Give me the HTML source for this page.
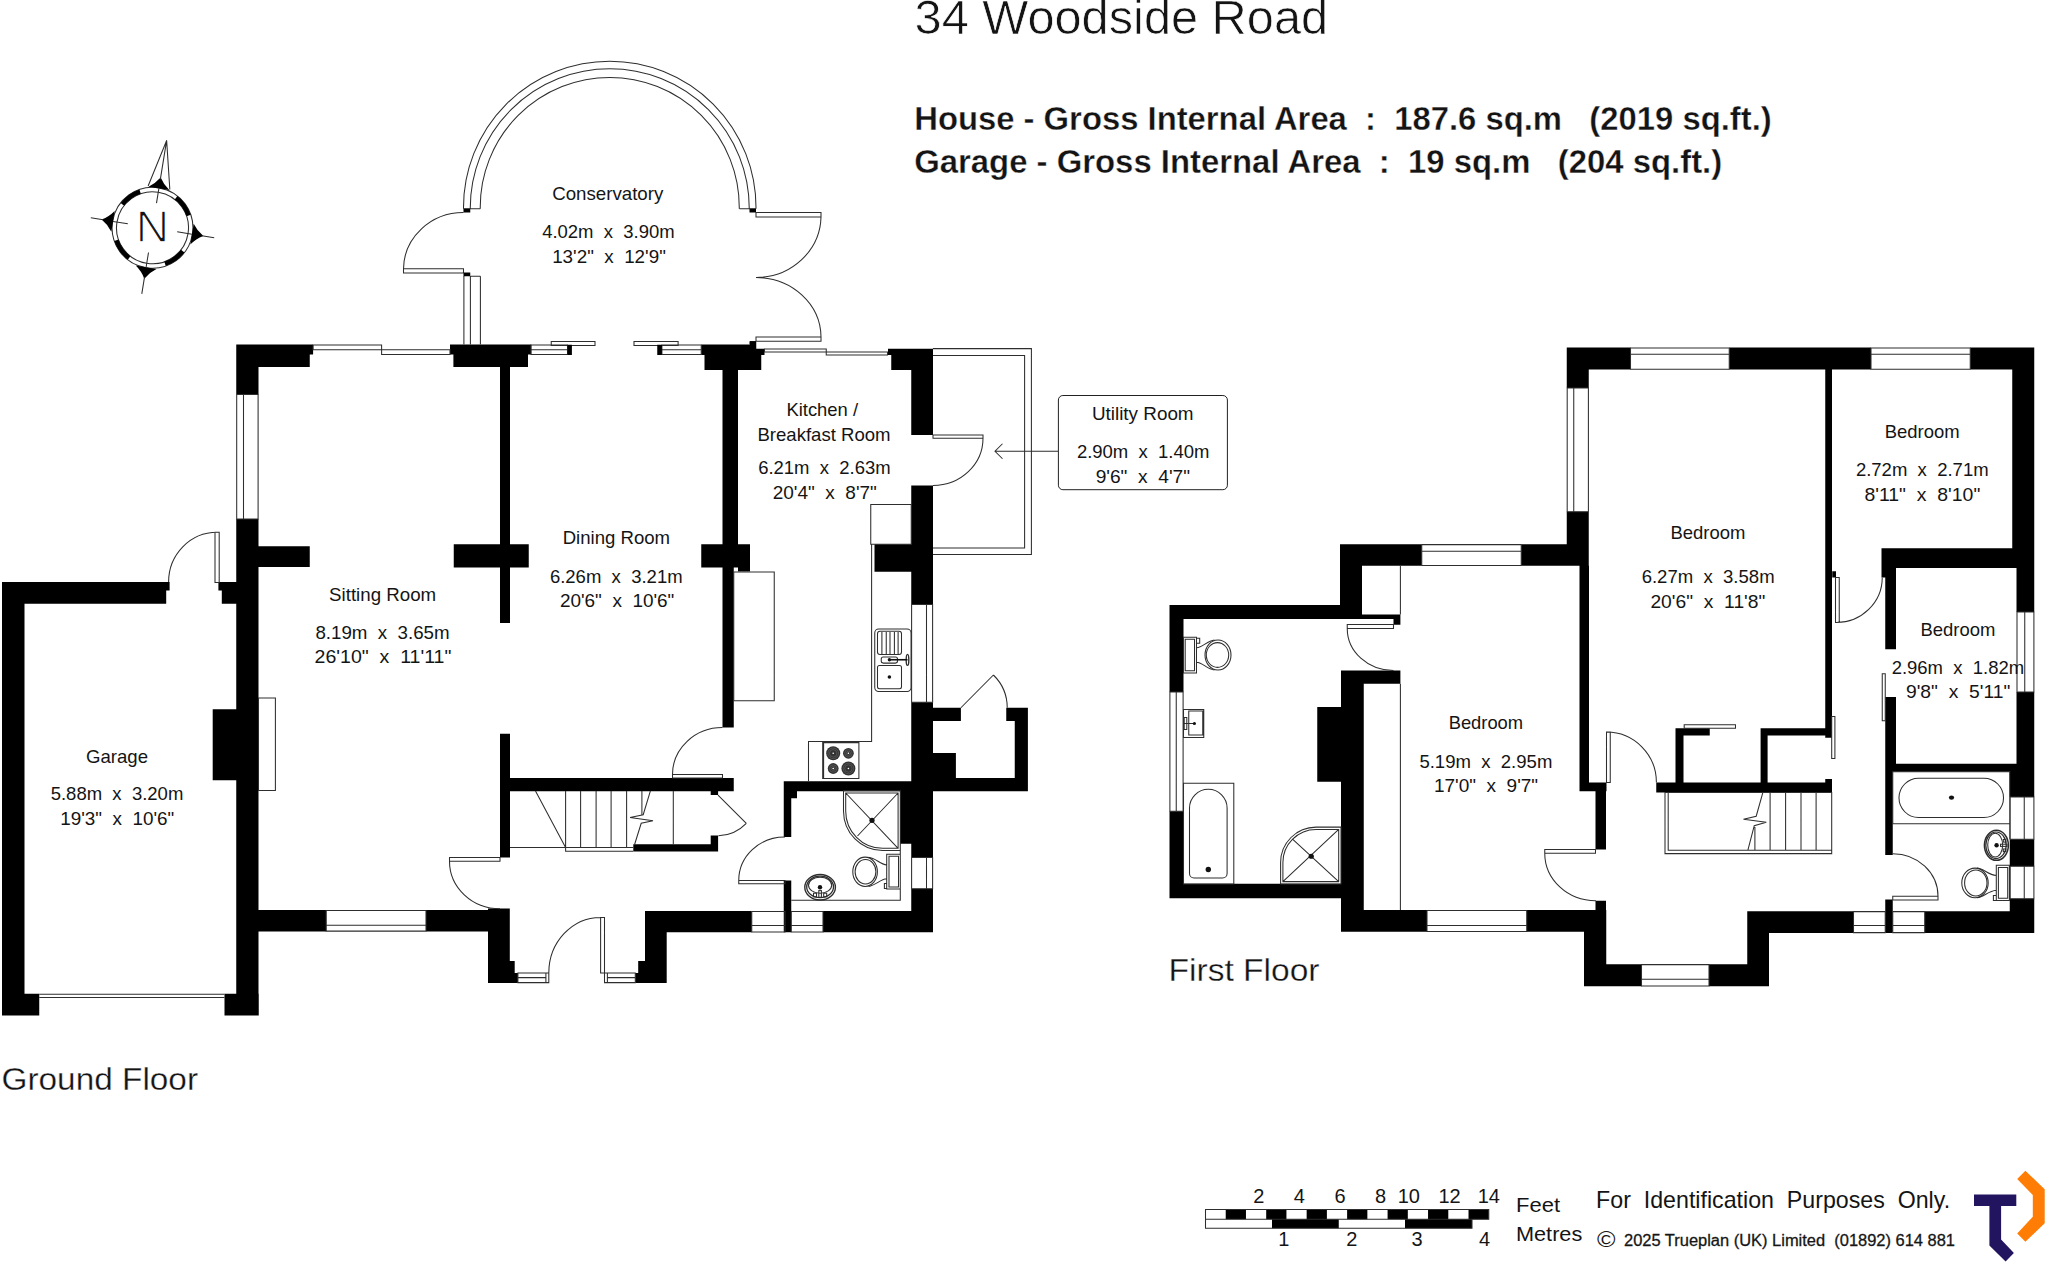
<!DOCTYPE html>
<html lang="en"><head><meta charset="utf-8"><title>34 Woodside Road - Floor Plan</title>
<style>
html,body{margin:0;padding:0;background:#fff}
body{width:2048px;height:1264px;overflow:hidden}
svg{display:block}
text{font-family:"Liberation Sans",sans-serif;fill:#141414}
.w{fill:#000}
.l{fill:none;stroke:#2e2e2e;stroke-width:1.05}
.f{fill:#111}
.b{font-weight:bold}
.s1{stroke:#fff;stroke-width:.7}.s2{stroke:#fff;stroke-width:.35}.s3{stroke:#fff;stroke-width:.3}.s4{stroke:none}.s5{stroke:none}.s6{stroke:none}.s7{stroke:#1c1c1c;stroke-width:.3}
</style></head><body>
<svg width="2048" height="1264" viewBox="0 0 2048 1264">
<rect width="2048" height="1264" fill="#fff"/>
<!-- ground floor walls -->
<path class="w" d="M2 582H24.5V1015.5H2ZM2 582H169.6V590.4H2ZM2 590.4H166.2V603.7H2ZM218.4 582H236.25V590.4H218.4ZM221.8 590.4H236.25V603.7H221.8ZM2 993.75H39.25V1015.5H2ZM224.5 993.75H258.75V1015.5H224.5ZM236.25 344.4H258.5V394.4H236.25ZM236.25 518.9H258.5V1015.5H236.25ZM212.7 709.3H236.25V780.3H212.7ZM236.25 344.4H313.1V354.6H236.25ZM236.25 354.6H309.75V366.9H236.25ZM450 344.4H531.25V354.6H450ZM453.4 354.6H528V366.9H453.4ZM701.25 344.6H750V355H701.25ZM750 341.25H756.25V348.75H750ZM750 348.75H764.5V355H750ZM704.5 355H761.25V370H704.5ZM888 348.75H933V355H888ZM891.25 355H911.25V370H891.25ZM911.25 348.75H933V435H911.25ZM911.25 485.5H933V604.4H911.25ZM874.5 544.25H911.25V571.75H874.5ZM911.25 702.25H933V857.5H911.25ZM911.25 888.75H933V932.3H911.25ZM933 707.75H960.9V721H933ZM1006.25 707.75H1027.9V721H1006.25ZM1014.75 707.75H1027.9V791.25H1014.75ZM933 778.1H1027.9V791.25H933ZM933 753.1H955.9V778.1H933ZM500 366.9H510V623H500ZM500 733.75H510V857.5H500ZM258.5 546.3H309.75V567.1H258.5ZM453.75 544.25H528.75V567.5H453.75ZM722.5 370H738V544.25H722.5ZM701.25 544.25H750V567.5H701.25ZM738 567.5H750V571.5H738ZM722.5 567.5H733.75V727.5H722.5ZM500 778H733.75V791.25H500ZM633.3 844.3H718.1V851.6H633.3ZM710.7 835.4H718.1V851.6H710.7ZM710.7 791H718.1V795.1H710.7ZM783.75 781.25H911.25V791.25H783.75ZM783.75 781.25H791.25V837H783.75ZM791.25 791.25H797V798.25H791.25ZM783.75 880.5H791.25V932.3H783.75ZM900 791.25H911.25V843.75H900ZM258.5 910.1H326.2V931.5H258.5ZM426 910.1H509.8V931.5H426ZM488 908.6H509.8V983H488ZM509.8 961H514.7V983H509.8ZM514.7 973H517.9V983H514.7ZM645 911.2H666.7V983H645ZM638.2 961H645V983H638.2ZM635.3 973H638.2V983H635.3ZM645 911H751.75V932.3H645ZM785 911H791.25V932.3H785ZM823 911H933V932.3H823Z"/>
<!-- first floor walls -->
<path class="w" d="M1566.75 347.5H1630.5V369.5H1566.75ZM1729.25 347.5H1871V369.5H1729.25ZM1970.25 347.5H2034.25V369.5H1970.25ZM1566.75 347.5H1588.75V388H1566.75ZM1566.75 511.75H1588.75V565.75H1566.75ZM1340 544.25H1421.75V565.75H1340ZM1521.25 544.25H1588.75V565.75H1521.25ZM1579.5 565.75H1589V791.25H1579.5ZM1579.5 782.5H1606.5V791.25H1579.5ZM1595.5 791.25H1606V849.5H1595.5ZM1595.5 900.75H1606V911H1595.5ZM1340 544.25H1362V619H1340ZM1169.5 605H1362V619H1169.5ZM1362 614.4H1400.4V619H1362ZM1393.5 619H1400.4V624.75H1393.5ZM1169.5 605H1183.5V691.9H1169.5ZM1169.5 811.25H1183.5V898.25H1169.5ZM1169.5 883.75H1342V898.25H1169.5ZM1341 670.4H1363.75V931.75H1341ZM1341 670.4H1400.4V683.75H1341ZM1317.25 706.9H1341V781.75H1317.25ZM1341 910H1427V931.75H1341ZM1526.75 910H1606.25V931.75H1526.75ZM1584 910H1606.25V986.25H1584ZM1584 964.25H1641.5V986.25H1584ZM1709 964.25H1769V986.25H1709ZM1747.25 911.25H1769V986.25H1747.25ZM1747.25 911.25H1853.5V933H1747.25ZM1885.25 911.25H1892.75V933H1885.25ZM1924.75 911.25H2034.25V933H1924.75ZM2012.25 347.5H2034.25V568H2012.25ZM2016.5 568H2034.25V612H2016.5ZM2016.5 692H2034.25V771.75H2016.5ZM2009.75 771.75H2034.25V797H2009.75ZM2009.75 839.25H2034.25V866.25H2009.75ZM2009.75 898.75H2034.25V933H2009.75ZM1825.25 369.5H1832V737.8H1825.25ZM1825.25 779H1832V792.5H1825.25ZM1832.25 571.25H1836V577.5H1832.25ZM1881.5 548.25H2016.5V568H1881.5ZM1881.5 568H1885.25V577.5H1881.5ZM1885.25 568H1896V649.25H1885.25ZM1885.25 697H1896V771.75H1885.25ZM1885.25 763.75H2016.5V771.75H1885.25ZM1885.25 771.75H1892.75V855H1885.25ZM1885.25 899.5H1892.75V911.25H1885.25ZM1656.25 782.5H1832V792.4H1656.25ZM1675.5 728.25H1683.5V782.5H1675.5ZM1675.5 728.25H1709.75V735.5H1675.5ZM1760.6 728.25H1767.6V782.5H1760.6ZM1760.6 728.25H1832V735.5H1760.6Z"/>
<!-- ground floor lines -->
<path class="l" d="M215 532.3H219.2V582.5H215ZM217 532.3A48.4 49.7 0 0 0 168.6 582M39.25 994.2L224.5 994.2M39.25 997.5L224.5 997.5M236.7 394.4H258.1V518.9H236.7ZM243.5 394.4L243.5 518.9M258.5 697.9H275.4V790.5H258.5ZM313.1 344.9H381.6V349.75H313.1ZM381.6 349.75H450V354.4H381.6ZM326.2 910.5H426V931.1H326.2ZM326.2 925.2L426 925.2M463.5 208.75V207.5A146.25 146.25 0 0 1 756 207.5V208.75M470.25 208.75V208.2A139.5 139.5 0 0 1 749.25 208.2V208.75M480.25 208.75V207A129.5 129.5 0 0 1 739.25 207V208.75M463.5 208.75L480.25 208.75M739.5 208.75L756 208.75M403.5 268.75H463.5V273H403.5ZM463.5 212.5A60 57 0 0 0 403.5 269M463.9 276L463.9 344.4M470.4 276L470.4 344.4M480.4 276.25L480.4 344.4M470.4 276.25L480.4 276.25M756 212.5H821V217H756ZM821 217A65 62 0 0 1 756 277.5M756 337H821V341.25H756ZM821 337A65 60 0 0 0 756 277.5M531 344.9H567.5V354.4H531ZM531 349.75L567.5 349.75M551.25 341.4H595V345.4H551.25ZM634 341.4H678.1V345.4H634ZM661.9 344.9H701.25V354.4H661.9ZM661.9 349.75L701.25 349.75M764.5 348.9H826.25V352H764.5ZM826.25 352H887.5V355H826.25ZM933 348.6H1031.4V554.5H933M933 355.4H1024.6V548H933M933 435H983V438.3H933ZM983 438.3A50 47.2 0 0 1 933 485.5M995 451.25L1058 451.25M1002.5 443.75L995 451.25L1002.5 458.75M870.75 504.5H911.25V544.25H870.75ZM871.6 544.25V741.4H808.5V781M733.75 571.9H774.25V700.75H733.75ZM822.7 742.6H858.9V778.4H822.7ZM823.6 778V743M911.6 604.4H932.6V702.25H911.6ZM926.5 604.4L926.5 702.25M672.5 774.5H722.5V778H672.5ZM672.5 774.5A50 47 0 0 1 722.5 727.5M510 847.4L633.3 847.4M535.5 790.9L565.6 847.4M565.6 847.4V851.25H633.3M565.6 790.9L565.6 847.4M580.6 790.9L580.6 847.4M596.1 790.9L596.1 847.4M611.1 790.9L611.1 847.4M626.6 790.9L626.6 847.4M641.9 790.9L641.9 814.4M650.4 790.9L643.2 814.7L630.1 817.6L653 820.8L641.2 823.3L634.6 844.5M673.3 790.9L673.3 844.3M718 795.1L746.3 823.3M746.3 823.3A41 41 0 0 1 718.4 835.8M449.5 857.5H500V861.25H449.5ZM449.5 861.25A50.5 47.5 0 0 0 500 908.8M600.6 917.4H604.5V973H600.6ZM600.6 917.4A51.8 55.6 0 0 0 548.8 973M517.9 973H548.8V982.6H517.9ZM517.9 977.6L545.9 977.6M545.9 973L545.9 982.6M604.5 973H635.3V982.6H604.5ZM607.4 977.6L635.3 977.6M607.4 973L607.4 982.6M738.75 880.5H785V883.75H738.75ZM738.75 880.5A46 43.5 0 0 1 785 837M751.75 911.4H785V932H751.75ZM751.75 925.5L785 925.5M791.25 911.4H823V932H791.25ZM791.25 925.5L823 925.5M911.6 857.5H932.6V888.75H911.6ZM926.5 857.5L926.5 888.75M900.3 850.5V900.2H791.25M843.5 790.8H900.3V850.5H882.6A39 39.6 0 0 1 843.5 810.9ZM845.7 793H898.1V848.3H882.6A36.9 37.4 0 0 1 845.7 810.9ZM845.7 793L898.1 848.3M898.1 793L857.5 836M886.7 854.3H900.3V889H886.7ZM889 856.3H898.5V887H889ZM884.4 883.4H886.7V888.5H884.4ZM868.5 857.2C876 858 880 864.5 886.7 864.9M868.5 886.4C876 885.6 880 879.2 886.7 878.8M960.9 707.75L993.4 675M993.4 675A46 46 0 0 1 1007.25 707.75"/>
<!-- first floor lines -->
<path class="l" d="M1630.5 347.9H1729.25V369.2H1630.5ZM1630.5 354.25L1729.25 354.25M1871 347.9H1970.25V369.2H1871ZM1871 354.25L1970.25 354.25M1567.2 388H1588.4V511.75H1567.2ZM1573.75 388L1573.75 511.75M1421.75 544.6H1521.25V565.4H1421.75ZM1421.75 551.25L1521.25 551.25M1400.4 565.75L1400.4 614.4M1347.25 624.4H1393.5V628.4H1347.25ZM1347.25 628.4A46.25 42 0 0 0 1393.5 670.4M1169.9 691.9H1183.1V811.25H1169.9ZM1176.25 691.9L1176.25 811.25M1400.4 683.75L1400.4 910M1183.5 637.25H1196.5V672.9H1183.5ZM1185.2 639.3H1194.5V670.8H1185.2ZM1196.5 638.2H1199.7V643.2H1196.5ZM1196.5 647.8C1203 647.4 1207 640.8 1214.5 640M1196.5 662.2C1203 662.6 1207 669.2 1214.5 670M1183.5 709.4H1203.75V737.5H1183.5ZM1188.75 711H1202.75V735H1188.75ZM1184.2 717.5H1186.8V729.5H1184.2ZM1183.5 723.5L1194.4 723.5M1183.5 783.2H1233.8V883.9H1183.5ZM1189.5 808.1A18.8 18.8 0 0 1 1227.1 808.1V873.5A4.5 4.5 0 0 1 1222.6 878H1194A4.5 4.5 0 0 1 1189.5 873.5ZM1341 827.1V883.9H1280.6V862.6A35.5 35.5 0 0 1 1316.1 827.1ZM1338.7 829.4V881.6H1282.9V862.6A33.2 33.2 0 0 1 1316.1 829.4ZM1338.7 829.4L1282.9 881.6M1292.8 839.3L1338.7 881.6M1427 910.4H1526.75V931.4H1427ZM1427 925.5L1526.75 925.5M1544.75 849.5H1595.5V853.25H1544.75ZM1544.75 853.25A51 47.5 0 0 0 1596 900.75M1606.5 732H1610.25V782.5H1606.5ZM1606.5 732A49.9 50.5 0 0 1 1656.4 782.5M1641.5 964.6H1709V985.9H1641.5ZM1641.5 979.25L1709 979.25M1853.5 911.6H1885.25V932.6H1853.5ZM1853.5 925.5L1885.25 925.5M1892.75 911.6H1924.75V932.6H1892.75ZM1892.75 925.5L1924.75 925.5M2017 612H2033.9V692H2017ZM2024.75 612L2024.75 692M2010.2 797H2033.9V839.25H2010.2ZM2024.25 797L2024.25 839.25M2010.2 866.25H2033.9V898.75H2010.2ZM2024.25 866.25L2024.25 898.75M1835.5 577.5H1839.25V622.5H1835.5ZM1836 622.5A46 45 0 0 0 1882.25 577.5M1831.7 716.5H1834.9V758.4H1831.7ZM1684.2 724.75H1735.5V728.2H1684.2ZM1882.25 673.75H1885.25V720.75H1882.25ZM1665 792.4H1831.7V853.6H1665ZM1668.2 792.4V850.2H1831.7M1770.1 792.4L1770.1 850.2M1785.6 792.4L1785.6 850.2M1801 792.4L1801 850.2M1816.1 792.4L1816.1 850.2M1754.9 827L1754.9 850.2M1762.9 792.4L1756.2 816.2L1743.5 819.3L1766.3 822.25L1754.25 825.7L1747.9 850.2M1892.75 771.75H2009.75V823.75H1892.75ZM1918.6 778.25H1983.9A19.6 19.6 0 0 1 1983.9 817.5H1918.6A19.6 19.6 0 0 1 1918.6 778.25ZM2009.75 823.75L2009.75 839.25M1892.75 896.25H1938V900H1892.75ZM1938 896.25A45.25 42.5 0 0 0 1892.75 853.75M1996.3 865.2H2009.4V900.5H1996.3ZM1998.4 867.4H2007.7V898.3H1998.4ZM1993.4 895.5H1996.3V900.5H1993.4ZM1977 868.1C1984 868.6 1988 875 1996.3 875.5M1977 897.7C1984 897.2 1988 890.8 1996.3 890.2"/>
<path class="w" d="M463.5 208.75H470.25V212.5H463.5ZM749.5 208.75H756V212.5H749.5ZM463.5 272.5H470.25V276.25H463.5ZM749.5 341.25H756V344.6H749.5ZM567.5 344.75H571.9V354.9H567.5ZM657.25 344.75H661.9V354.9H657.25Z"/>
<rect x="1058.4" y="395.5" width="169" height="94.2" rx="4.5" fill="#fff" stroke="#222" stroke-width="1"/>
<circle cx="833.2" cy="753.3" r="7.0" fill="#333"/><circle cx="833.2" cy="753.3" r="5.3" fill="none" stroke="#6e6e6e" stroke-width=".5"/><circle cx="833.2" cy="753.3" r="3.7" fill="none" stroke="#6e6e6e" stroke-width=".5"/><circle cx="833.2" cy="753.3" r=".8" fill="#fff"/>
<circle cx="848.4" cy="753.3" r="5.4" fill="#333"/><circle cx="848.4" cy="753.3" r="3.7" fill="none" stroke="#6e6e6e" stroke-width=".5"/><circle cx="848.4" cy="753.3" r="2.1" fill="none" stroke="#6e6e6e" stroke-width=".5"/><circle cx="848.4" cy="753.3" r=".8" fill="#fff"/>
<circle cx="833.2" cy="768.5" r="5.4" fill="#333"/><circle cx="833.2" cy="768.5" r="3.7" fill="none" stroke="#6e6e6e" stroke-width=".5"/><circle cx="833.2" cy="768.5" r="2.1" fill="none" stroke="#6e6e6e" stroke-width=".5"/><circle cx="833.2" cy="768.5" r=".8" fill="#fff"/>
<circle cx="848.4" cy="768.5" r="7.0" fill="#333"/><circle cx="848.4" cy="768.5" r="5.3" fill="none" stroke="#6e6e6e" stroke-width=".5"/><circle cx="848.4" cy="768.5" r="3.7" fill="none" stroke="#6e6e6e" stroke-width=".5"/><circle cx="848.4" cy="768.5" r=".8" fill="#fff"/>
<g class="l"><rect x="874.75" y="629" width="36.3" height="62.5" rx="4"/><rect x="877.5" y="631.25" width="24" height="23.2" rx="2.5"/><rect x="877.5" y="665.4" width="24" height="23.4" rx="2"/><path d="M881.9 632V654M886.25 632V654M890 632V654M894.4 632V654M898.1 632V654"/><rect x="881.25" y="656.9" width="16.25" height="6.2" rx="2"/><ellipse cx="907.5" cy="659.9" rx="1.3" ry="5.5" stroke-width="1.4"/></g><path d="M889.4 659.75H907.5" stroke="#111" stroke-width="1.6" fill="none"/><circle cx="889.4" cy="659.75" r="1.7" class="f"/><circle cx="889.4" cy="677" r="1.8" class="f"/>
<circle cx="872" cy="820.3" r="2.6" class="f"/><circle cx="1311.25" cy="856.25" r="2.6" class="f"/>
<g class="l"><ellipse cx="865.1" cy="871.8" rx="12.3" ry="14.7"/><ellipse cx="865.5" cy="871.7" rx="10.4" ry="12.2"/><ellipse cx="820.1" cy="887.25" rx="15.3" ry="12.7" stroke-width="1.4"/><ellipse cx="820.1" cy="886.9" rx="13.4" ry="10.8" stroke-width="1.3"/><ellipse cx="820.1" cy="885.2" rx="11.6" ry="8"/><rect x="818.8" y="890.6" width="2.6" height="6.7"/><rect x="813.5" y="893.2" width="3" height="3.6"/><rect x="823.7" y="893.2" width="3" height="3.6"/></g><circle cx="820" cy="887.2" r="2.2" class="f"/>
<g class="l"><ellipse cx="1218" cy="655" rx="13" ry="15"/><ellipse cx="1217.5" cy="655" rx="11.2" ry="12.4"/></g>
<circle cx="1194.4" cy="723.5" r="1.6" class="f"/><circle cx="1208.3" cy="869.5" r="2.7" class="f"/>
<ellipse cx="1951.5" cy="797.6" rx="2.6" ry="2.2" class="f"/>
<g class="l"><ellipse cx="1996.4" cy="845.3" rx="12" ry="15" stroke-width="1.5"/><ellipse cx="1996" cy="845.3" rx="10.2" ry="13.3" stroke-width="1.2"/><ellipse cx="1995.2" cy="845.1" rx="7.5" ry="11.9"/><rect x="2000.5" y="844.2" width="6.5" height="2.2"/><rect x="2003.3" y="839.5" width="2.6" height="2.6"/><rect x="2003.3" y="849" width="2.6" height="2.6"/><ellipse cx="1975" cy="882.9" rx="13.2" ry="14.8"/><ellipse cx="1975.8" cy="882.9" rx="11.2" ry="13"/></g><circle cx="1996.6" cy="845.3" r="2.2" class="f"/>
<g transform="translate(152.5 227.8) rotate(9.2)"><circle r="40.4" class="l"/><circle r="36" class="l"/><circle r="38.2" fill="none" stroke="#000" stroke-width="4.4" stroke-dasharray="22 38" stroke-dashoffset="-19"/><path class="w" d="M-10.5 -40Q-4 -44.6 0 -51Q4 -44.6 10.5 -40ZM40 -10.5Q44.6 -4 51.5 0Q44.6 4 40 10.5ZM-40 -10.5Q-44.6 -4 -51.5 0Q-44.6 4 -40 10.5ZM-10.5 40Q-4 44.6 0 51.5Q4 44.6 10.5 40Z"/><path class="l" d="M-11 -40.5L0 -88.5L11 -40.5M0 -88.5V-49M0 -40V-25M40 0H25M-40 0H-25M0 40V25M50 0H62.5M-50 0H-62.5M0 50V67"/></g>
<path class="w" d="M1225.73 1209.5H1245.96V1219.25H1225.73ZM1266.2 1209.5H1286.43V1219.25H1266.2ZM1306.66 1209.5H1326.89V1219.25H1306.66ZM1347.12 1209.5H1367.36V1219.25H1347.12ZM1387.59 1209.5H1407.82V1219.25H1387.59ZM1428.05 1209.5H1448.29V1219.25H1428.05ZM1468.52 1209.5H1488.75V1219.25H1468.52ZM1272 1219.25H1338.75V1228.25H1272ZM1405 1219.25H1472V1228.25H1405Z"/>
<path class="l" d="M1205.5 1209.5H1488.75V1219.25H1205.5ZM1205.5 1219.25V1228.25H1472V1219.25"/>
<path fill="#231460" d="M1974 1194.4H2016.3V1206H2001.1V1239.4L2013.9 1252.9L2005.6 1261.6L1989.4 1245.5V1206H1974Z"/>
<path fill="#ff7d04" d="M2025.4 1170.7L2044.7 1189.2V1223.3L2025.4 1241.8L2017.2 1233.6L2032.8 1216.7V1195L2017.2 1178.9Z"/>
<text x="914.6" y="34" font-size="48" textLength="413.5" lengthAdjust="spacingAndGlyphs" class="s1" xml:space="preserve">34 Woodside Road</text>
<text x="914.2" y="129.8" font-size="34" textLength="857.5" lengthAdjust="spacingAndGlyphs" class="b s2" xml:space="preserve">House - Gross Internal Area  :  187.6 sq.m   (2019 sq.ft.)</text>
<text x="914.2" y="172.9" font-size="34" textLength="808" lengthAdjust="spacingAndGlyphs" class="b s2" xml:space="preserve">Garage - Gross Internal Area  :  19 sq.m   (204 sq.ft.)</text>
<text x="1.5" y="1090" font-size="31.5" textLength="196.5" lengthAdjust="spacingAndGlyphs" class="s3" xml:space="preserve">Ground Floor</text>
<text x="1168.5" y="981.25" font-size="31.5" textLength="151" lengthAdjust="spacingAndGlyphs" class="s3" xml:space="preserve">First Floor</text>
<text x="152.5" y="242.4" font-size="43.5" text-anchor="middle" textLength="33.4" lengthAdjust="spacingAndGlyphs" stroke="#fff" stroke-width="1.3" xml:space="preserve">N</text>
<text x="607.75" y="200" font-size="19" text-anchor="middle" textLength="111.2" lengthAdjust="spacingAndGlyphs" class="s4" xml:space="preserve">Conservatory</text>
<text x="608.375" y="238" font-size="19" text-anchor="middle" textLength="132.45" lengthAdjust="spacingAndGlyphs" class="s4" xml:space="preserve">4.02m  x  3.90m</text>
<text x="609" y="262.5" font-size="19" text-anchor="middle" textLength="113.7" lengthAdjust="spacingAndGlyphs" class="s4" xml:space="preserve">13'2&quot;  x  12'9&quot;</text>
<text x="616.375" y="544.25" font-size="19" text-anchor="middle" textLength="107.45" lengthAdjust="spacingAndGlyphs" class="s4" xml:space="preserve">Dining Room</text>
<text x="616.25" y="582.5" font-size="19" text-anchor="middle" textLength="132.7" lengthAdjust="spacingAndGlyphs" class="s4" xml:space="preserve">6.26m  x  3.21m</text>
<text x="617.125" y="606.75" font-size="19" text-anchor="middle" textLength="114.45" lengthAdjust="spacingAndGlyphs" class="s4" xml:space="preserve">20'6&quot;  x  10'6&quot;</text>
<text x="822.25" y="416.25" font-size="19" text-anchor="middle" textLength="71.7" lengthAdjust="spacingAndGlyphs" class="s4" xml:space="preserve">Kitchen /</text>
<text x="824" y="441.25" font-size="19" text-anchor="middle" textLength="133.2" lengthAdjust="spacingAndGlyphs" class="s4" xml:space="preserve">Breakfast Room</text>
<text x="824.375" y="474.25" font-size="19" text-anchor="middle" textLength="132.45" lengthAdjust="spacingAndGlyphs" class="s4" xml:space="preserve">6.21m  x  2.63m</text>
<text x="824.75" y="498.75" font-size="19" text-anchor="middle" textLength="104.2" lengthAdjust="spacingAndGlyphs" class="s4" xml:space="preserve">20'4&quot;  x  8'7&quot;</text>
<text x="382.65" y="601" font-size="19" text-anchor="middle" textLength="107.1" lengthAdjust="spacingAndGlyphs" class="s4" xml:space="preserve">Sitting Room</text>
<text x="382.5" y="639" font-size="19" text-anchor="middle" textLength="134.2" lengthAdjust="spacingAndGlyphs" class="s4" xml:space="preserve">8.19m  x  3.65m</text>
<text x="383" y="663.3" font-size="19" text-anchor="middle" textLength="136.8" lengthAdjust="spacingAndGlyphs" class="s4" xml:space="preserve">26'10&quot;  x  11'11&quot;</text>
<text x="117" y="763.2" font-size="19" text-anchor="middle" textLength="62" lengthAdjust="spacingAndGlyphs" class="s4" xml:space="preserve">Garage</text>
<text x="117" y="800.4" font-size="19" text-anchor="middle" textLength="132.6" lengthAdjust="spacingAndGlyphs" class="s4" xml:space="preserve">5.88m  x  3.20m</text>
<text x="117.2" y="824.7" font-size="19" text-anchor="middle" textLength="114" lengthAdjust="spacingAndGlyphs" class="s4" xml:space="preserve">19'3&quot;  x  10'6&quot;</text>
<text x="1142.75" y="420" font-size="19" text-anchor="middle" textLength="101.7" lengthAdjust="spacingAndGlyphs" class="s4" xml:space="preserve">Utility Room</text>
<text x="1143.12" y="458" font-size="19" text-anchor="middle" textLength="132.45" lengthAdjust="spacingAndGlyphs" class="s4" xml:space="preserve">2.90m  x  1.40m</text>
<text x="1142.88" y="482.5" font-size="19" text-anchor="middle" textLength="94.45" lengthAdjust="spacingAndGlyphs" class="s4" xml:space="preserve">9'6&quot;  x  4'7&quot;</text>
<text x="1485.88" y="728.75" font-size="19" text-anchor="middle" textLength="74.45" lengthAdjust="spacingAndGlyphs" class="s4" xml:space="preserve">Bedroom</text>
<text x="1485.88" y="767.5" font-size="19" text-anchor="middle" textLength="132.95" lengthAdjust="spacingAndGlyphs" class="s4" xml:space="preserve">5.19m  x  2.95m</text>
<text x="1486" y="791.75" font-size="19" text-anchor="middle" textLength="104.2" lengthAdjust="spacingAndGlyphs" class="s4" xml:space="preserve">17'0&quot;  x  9'7&quot;</text>
<text x="1707.88" y="538.75" font-size="19" text-anchor="middle" textLength="74.95" lengthAdjust="spacingAndGlyphs" class="s4" xml:space="preserve">Bedroom</text>
<text x="1708.12" y="583" font-size="19" text-anchor="middle" textLength="132.95" lengthAdjust="spacingAndGlyphs" class="s4" xml:space="preserve">6.27m  x  3.58m</text>
<text x="1707.88" y="607.5" font-size="19" text-anchor="middle" textLength="114.95" lengthAdjust="spacingAndGlyphs" class="s4" xml:space="preserve">20'6&quot;  x  11'8&quot;</text>
<text x="1922.12" y="438" font-size="19" text-anchor="middle" textLength="74.95" lengthAdjust="spacingAndGlyphs" class="s4" xml:space="preserve">Bedroom</text>
<text x="1922.25" y="476.25" font-size="19" text-anchor="middle" textLength="132.7" lengthAdjust="spacingAndGlyphs" class="s4" xml:space="preserve">2.72m  x  2.71m</text>
<text x="1922.38" y="500.75" font-size="19" text-anchor="middle" textLength="115.95" lengthAdjust="spacingAndGlyphs" class="s4" xml:space="preserve">8'11&quot;  x  8'10&quot;</text>
<text x="1957.88" y="635.5" font-size="19" text-anchor="middle" textLength="74.95" lengthAdjust="spacingAndGlyphs" class="s4" xml:space="preserve">Bedroom</text>
<text x="1957.88" y="673.75" font-size="19" text-anchor="middle" textLength="132.45" lengthAdjust="spacingAndGlyphs" class="s4" xml:space="preserve">2.96m  x  1.82m</text>
<text x="1958.12" y="698.25" font-size="19" text-anchor="middle" textLength="104.45" lengthAdjust="spacingAndGlyphs" class="s4" xml:space="preserve">9'8&quot;  x  5'11&quot;</text>
<text x="1258.75" y="1203" font-size="20" text-anchor="middle" class="s5" xml:space="preserve">2</text>
<text x="1299.25" y="1203" font-size="20" text-anchor="middle" class="s5" xml:space="preserve">4</text>
<text x="1340" y="1203" font-size="20" text-anchor="middle" class="s5" xml:space="preserve">6</text>
<text x="1380.5" y="1203" font-size="20" text-anchor="middle" class="s5" xml:space="preserve">8</text>
<text x="1408.75" y="1203" font-size="20" text-anchor="middle" class="s5" xml:space="preserve">10</text>
<text x="1449.5" y="1203" font-size="20" text-anchor="middle" class="s5" xml:space="preserve">12</text>
<text x="1488.75" y="1203" font-size="20" text-anchor="middle" class="s5" xml:space="preserve">14</text>
<text x="1283.75" y="1246.25" font-size="20" text-anchor="middle" class="s5" xml:space="preserve">1</text>
<text x="1351.75" y="1246.25" font-size="20" text-anchor="middle" class="s5" xml:space="preserve">2</text>
<text x="1417" y="1246.25" font-size="20" text-anchor="middle" class="s5" xml:space="preserve">3</text>
<text x="1484.5" y="1246.25" font-size="20" text-anchor="middle" class="s5" xml:space="preserve">4</text>
<text x="1516" y="1212" font-size="20.5" textLength="44" lengthAdjust="spacingAndGlyphs" class="s5" xml:space="preserve">Feet</text>
<text x="1516" y="1241.25" font-size="20.5" textLength="66.25" lengthAdjust="spacingAndGlyphs" class="s5" xml:space="preserve">Metres</text>
<text x="1596.1" y="1208" font-size="24" textLength="354" lengthAdjust="spacingAndGlyphs" class="s6" xml:space="preserve">For  Identification  Purposes  Only.</text>
<text x="1597" y="1246.5" font-size="22" textLength="18.5" lengthAdjust="spacingAndGlyphs" font-family="Liberation Serif,serif" xml:space="preserve">©</text>
<text x="1624" y="1245.7" font-size="16" textLength="331" lengthAdjust="spacingAndGlyphs" class="s7" xml:space="preserve">2025 Trueplan (UK) Limited  (01892) 614 881</text>
</svg>
</body></html>
